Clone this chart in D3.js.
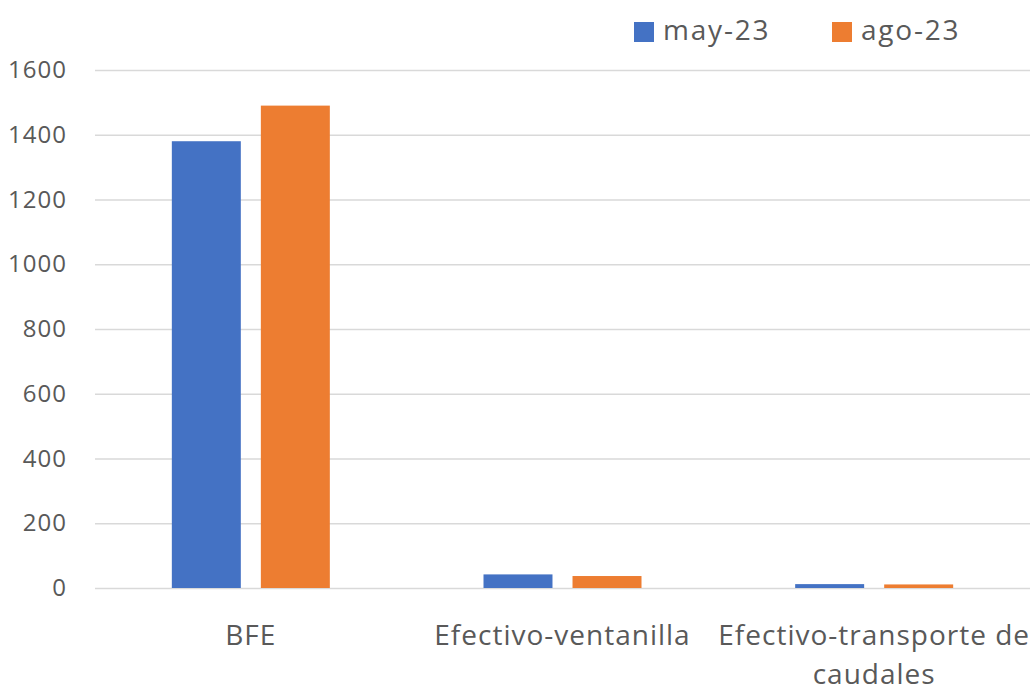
<!DOCTYPE html>
<html>
<head>
<meta charset="utf-8">
<script src="https://cdn.jsdelivr.net/npm/d3@7"></script>
<style>
  body { margin: 0; background: #fff; }
  text { font-family: "Open Sans", "Noto Sans", sans-serif; fill: #595959; }
</style>
</head>
<body>
<svg id="chart"></svg>
<script>
// Data
const categories = ["BFE", "Efectivo-ventanilla", "Efectivo-transporte de caudales"];
const seriesNames = ["may-23", "ago-23"];
const may23 = [1380, 42, 12];
const ago23 = [1490, 37, 11];
const yTicks = [0, 200, 400, 600, 800, 1000, 1200, 1400, 1600];
const colors = ["#4472C4", "#ED7D31"];

const W = 1031, H = 694;
const svg = d3.select("svg#chart").attr("width", W).attr("height", H);

const margin = { top: 70, right: 1, bottom: 106, left: 95 };
const width = W - margin.left - margin.right;
const height = H - margin.top - margin.bottom;

const g = svg.append("g").attr("transform", `translate(${margin.left}, ${margin.top})`);

const y = d3.scaleLinear().domain([0, 1600]).range([height, 0]);
const x0 = d3.scaleBand().domain(categories).range([0, width]).padding(0);
const half = 79;
const x1 = d3.scaleBand().domain(seriesNames)
    .range([x0.bandwidth() / 2 - half, x0.bandwidth() / 2 + half])
    .paddingInner(0.225).paddingOuter(0);

// Gridlines
g.append("g")
    .call(d3.axisLeft(y).tickValues(yTicks).tickSize(-width).tickFormat(""))
    .call(a => a.select(".domain").remove())
    .selectAll("line")
    .attr("stroke", "#D9D9D9")
    .attr("stroke-width", 1.5);

// Y tick labels
g.append("g")
    .call(d3.axisLeft(y).tickValues(yTicks).tickSize(0).tickPadding(28).tickFormat(d3.format("d")))
    .call(a => a.select(".domain").remove())
    .selectAll("text")
    .attr("font-size", "24px")
    .attr("letter-spacing", "1px")
    .style("fill", "#595959")
    .style("font-family", "'Open Sans', 'Noto Sans', sans-serif");

// Bars
const rows = categories.map((c, i) => ({ cat: c, vals: [may23[i], ago23[i]] }));
const groups = g.selectAll("g.cat")
    .data(rows)
    .enter().append("g")
    .attr("class", "cat")
    .attr("transform", d => `translate(${x0(d.cat)},0)`);

groups.selectAll("rect")
    .data(d => d.vals.map((v, j) => ({ s: seriesNames[j], v, j })))
    .enter().append("rect")
    .attr("x", d => x1(d.s))
    .attr("width", x1.bandwidth())
    .attr("y", d => y(d.v))
    .attr("height", d => height - y(d.v))
    .attr("fill", d => colors[d.j]);

// Category labels
const catLabels = [["BFE"], ["Efectivo-ventanilla"], ["Efectivo-transporte de", "caudales"]];
categories.forEach((c, i) => {
    const t = g.append("text")
        .attr("x", x0(c) + x0.bandwidth() / 2)
        .attr("y", height + 57)
        .attr("text-anchor", "middle")
        .attr("font-size", "28px")
        .attr("letter-spacing", "1px");
    catLabels[i].forEach((line, k) => {
        t.append("tspan")
            .attr("x", x0(c) + x0.bandwidth() / 2)
            .attr("dy", k === 0 ? 0 : 39)
            .text(line);
    });
});

// Legend
const legendX = [634, 832];
seriesNames.forEach((s, i) => {
    svg.append("rect")
        .attr("x", legendX[i]).attr("y", 22)
        .attr("width", 20).attr("height", 20)
        .attr("fill", colors[i]);
    svg.append("text")
        .attr("x", legendX[i] + 29).attr("y", 40)
        .attr("font-size", "28px")
        .attr("letter-spacing", "1.8px")
        .text(s);
});
</script>
</body>
</html>
